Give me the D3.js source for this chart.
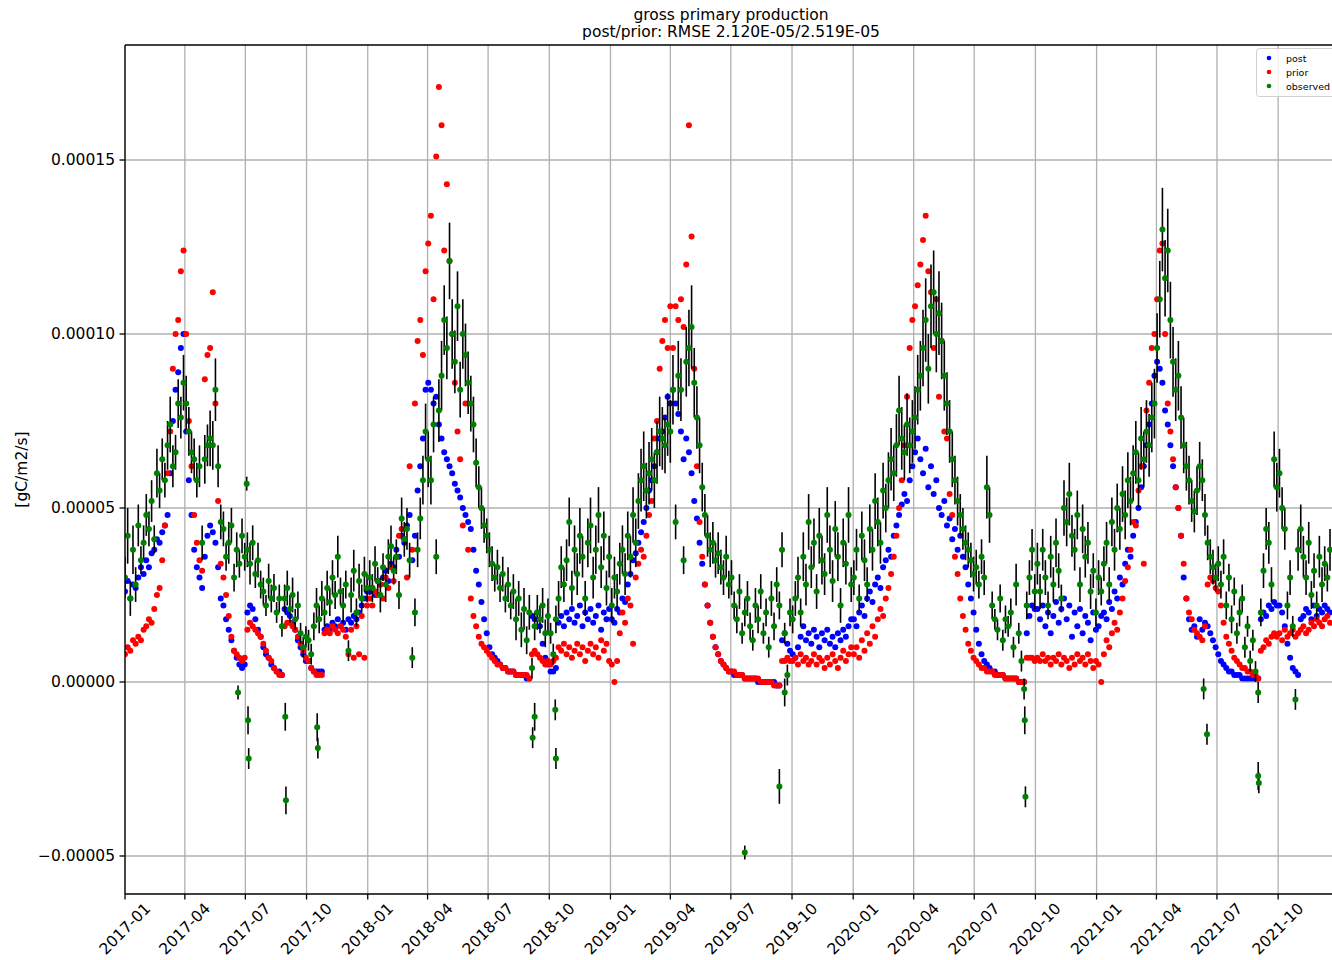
<!DOCTYPE html>
<html>
<head>
<meta charset="utf-8">
<script src="https://cdn.jsdelivr.net/npm/d3@7"></script>
<style>
  body { margin: 0; background: #fff; }
  svg text { font-family: "DejaVu Sans", sans-serif; fill: #000; }
</style>
</head>
<body>
<svg id="chart" width="1332" height="960"></svg>
<script>
// Gross primary production, values in units of 1e-6 gC/m2/s.
// Series are sampled every 4 days from 2017-01-01; each inner list is one
// calendar quarter and quarterStart holds the step index of its first sample.
const UNIT = 1e-6;
const STEP_DAYS = 4;
const quarterStart = [0,23,46,69,92,114,137,160,183,206,228,251,274,297,320,343,366,388,411,434];

const post = [
  [26,29,24,28,27,30,33,31,35,33,37,38,41,40,43,45,48,60,75,84,89,96,100],
  [72,58,48,38,33,30,27,36,42,45,43,40,33,24,22,18,15,12,9,7,5,4,5],
  [20,22,21,18,15,13,10,8,7,5,4,3,3,2,21,20,19,17,15,12,10,8,6],
  [6,4,3,3,3,3,15,16,15,17,16,18,16,17,15,18,17,19,18,20,22,24,26],
  [26,27,25,29,28,30,32,29,34,33,38,36,42,40,45,48,35,42,55,62,70,84],
  [86,84,80,82,74,70,66,64,62,60,57,55,53,50,48,46,44,38,32,28,23,18,14],
  [10,8,7,6,5,4,4,3,3,3,2,2,2,2,1,1,19,18,20,16,11,7,5],
  [3,3,4,17,19,16,20,18,21,17,19,22,16,20,18,21,17,19,22,15,20,18,21],
  [18,17,21,20,24,23,28,31,35,37,40,43,46,50,55,58,62,66,70,72,76,82,80],
  [84,80,77,72,64,70,66,60,52,47,40,34,28,22,17,13,10,8,6,5,4,3],
  [3,2,2,2,2,1,1,1,1,1,0,0,0,0,0,0,0,-1,-1,12,14,11,9],
  [8,7,10,13,16,12,14,11,15,13,10,14,12,15,11,13,10,14,12,15,13,16,18],
  [18,16,20,22,19,24,26,23,28,30,27,33,35,38,36,42,45,48,51,54,52,58,62],
  [66,70,64,60,67,56,62,54,58,50,48,52,45,47,41,44,38,42,36,33,28,24,20],
  [15,11,8,6,5,4,3,3,2,2,2,1,1,1,1,1,0,0,0,14,19,22,21],
  [21,18,22,16,20,14,19,23,17,21,24,18,22,13,20,16,21,14,19,17,12,20,15],
  [16,19,20,18,23,21,26,24,30,28,34,38,36,42,46,50,56,62,68,74,80,88],
  [92,90,86,78,74,68,62,56,50,42,30,24,18,15,16,13,18,15,17,16,14,12,10],
  [8,6,5,4,3,3,2,2,2,1,1,1,1,1,1,1,18,20,19,22,21,23,22],
  [22,20,16,11,7,4,3,2,18,19,21,20,18,22,19,21,20,22,21,20]
];

const prior = [
  [8,10,9,12,11,13,12,15,16,18,17,21,25,27,35,45,60,72,90,100,104,118,124],
  [100,75,62,48,40,35,32,87,94,96,112,80,52,34,30,25,19,13,9,8,7,6,7],
  [15,17,16,15,14,13,11,9,7,6,4,3,2,2,16,17,17,16,15,13,11,9,7],
  [6,4,3,2,2,2,14,15,14,16,15,14,16,15,13,8,15,7,16,8,19,7,22],
  [24,22,26,25,28,24,30,27,33,29,36,42,44,41,30,62,38,80,98,104,94,118],
  [126,134,110,151,171,160,124,143,121,100,86,72,64,45,80,38,24,19,16,13,11,10,9],
  [8,7,6,5,5,4,4,3,3,3,2,2,2,2,2,1,8,9,8,7,6,5,6],
  [5,6,7,10,9,11,8,10,7,9,11,8,10,6,9,11,8,10,7,12,9,11,6],
  [5,0,6,14,20,17,24,22,11,30,34,38,36,42,48,52,70,75,90,98,104,96,108],
  [96,108,104,110,102,120,160,128,90,62,46,36,28,22,17,13,10,8,6,5,4,3],
  [3,3,2,2,2,1,1,1,1,1,1,0,0,0,0,0,-1,-1,-1,6,6,7,6],
  [6,7,5,8,6,7,5,6,8,5,7,6,4,7,5,8,6,4,7,9,6,8,10],
  [8,10,7,12,9,14,11,16,13,18,21,19,24,27,31,36,42,50,58,68,82,96,104],
  [108,114,120,127,134,118,112,96,110,82,98,72,70,54,48,36,31,24,19,15,11,9,7],
  [6,5,4,4,3,3,3,2,2,2,2,1,1,1,1,1,0,0,0,7,7,7,6],
  [7,6,8,6,7,5,7,6,8,5,7,6,4,7,5,8,6,7,5,8,6,4,6],
  [5,0,8,12,10,14,17,15,20,24,29,33,38,46,45,55,62,34,78,86,96,100],
  [110,124,126,100,80,72,64,56,50,42,34,24,20,18,15,14,13,12,16,28,30,29,27],
  [26,22,17,13,11,9,7,6,5,4,4,3,3,2,2,1,9,10,12,11,13,14,13],
  [14,12,15,13,14,15,13,14,15,16,14,15,17,16,18,17,16,18,19,17]
];

const observed = [
  [30,42,24,38,28,45,35,40,48,44,52,41,60,55,64,58,68,74,62,66,80,76,86],
  [80,72,66,64,58,62,40,64,68,70,68,84,62,46,44,36,40,45,30,38,34,42,36],
  [38,34,40,31,35,28,26,22,29,24,27,20,24,16,24,27,21,25,18,22,14,10,13],
  [12,8,16,22,18,24,20,27,23,30,25,36,26,22,28,9,25,32,20,29,24,31,27],
  [30,27,34,29,25,33,28,36,39,32,36,25,47,41,44,35,7,20,38,47,58,72],
  [64,58,74,36,78,88,104,96,121,100,92,108,84,100,94,86,80,74,63,56,50,45,42],
  [38,34,30,33,27,31,24,28,22,26,18,24,15,21,12,20,4,16,20,18,22,14,19],
  [14,8,18,24,33,28,35,46,27,38,31,42,36,24,40,45,30,38,48,33,42,27,36],
  [22,30,26,34,38,31,42,36,48,40,52,58,62,55,60,64,58,66,72,70,68,74,72],
  [84,46,88,84,35,92,96,102,86,76,68,56,48,42,38,40,35,37,33,30,36,28],
  [30,22,18,26,14,20,24,16,12,22,18,26,14,20,10,24,16,28,22,38,14,2,20],
  [18,24,30,20,36,28,46,33,40,26,42,35,31,48,38,29,44,36,22,40,34,48,28],
  [30,38,24,42,35,28,44,38,52,46,40,55,50,58,64,60,68,78,70,66,74,68,72],
  [76,84,88,96,104,90,108,112,100,106,98,88,80,72,64,58,52,48,44,40,38,35,31],
  [33,28,36,30,56,48,22,18,15,24,12,18,16,20,10,28,14,6,-2,22,30,38,26],
  [34,26,38,30,22,36,28,40,32,24,50,46,54,42,38,48,28,44,36,40,26,32,20],
  [30,26,34,40,28,46,38,50,44,54,48,58,52,60,66,58,70,64,72,68,76,80],
  [96,110,130,116,124,104,92,84,88,76,68,62,58,52,49,55,62,58,48,40,36,33,30],
  [34,28,36,22,30,18,26,14,20,24,10,16,6,12,3,-3,20,32,44,40,28,64,56],
  [60,50,44,22,30,16,-5,38,44,36,30,40,25,32,22,36,28,34,30,38]
];

// Half-length of each observation's error bar, same units and layout.
const observedErr = [
  [6,8,5,7,5,6,4,5,6,5,6,4,7,5,6,5,7,8,6,5,7,6,8],
  [8,7,6,6,5,6,5,7,6,8,7,9,6,5,5,4,6,5,4,5,4,5,4],
  [5,6,5,4,5,4,4,3,5,4,4,3,4,3,4,5,4,5,3,4,3,3,3],
  [3,3,4,5,4,5,4,5,4,5,4,6,4,5,4,3,5,6,4,5,4,5,4],
  [5,4,5,4,5,4,5,5,6,4,5,4,6,5,6,5,3,4,5,6,7,8],
  [8,7,8,5,9,10,10,9,11,10,9,10,8,10,9,9,8,8,7,6,6,5,5],
  [5,5,4,5,4,5,4,5,4,5,6,5,5,6,4,5,3,4,5,4,5,4,5],
  [3,3,4,5,6,5,6,7,5,7,6,8,6,5,7,8,6,7,8,6,7,5,6],
  [5,6,5,6,7,6,7,6,8,7,8,9,10,8,9,9,8,9,10,9,8,9,9],
  [10,5,10,9,4,10,11,12,10,9,8,7,6,6,5,6,5,6,5,5,6,4],
  [5,4,4,5,3,4,5,4,3,5,4,5,3,4,3,5,4,5,4,5,3,3,4],
  [4,5,6,4,7,6,8,6,7,5,8,7,6,8,7,6,8,7,5,7,6,8,5],
  [5,6,4,7,6,5,7,6,8,7,6,8,7,8,9,8,9,10,9,8,9,8,9],
  [9,10,10,11,12,10,12,12,11,12,11,10,9,9,8,7,7,6,6,5,5,5,5],
  [5,4,5,5,9,8,4,3,3,4,3,4,3,4,3,6,3,3,3,4,5,6,5],
  [6,5,6,5,4,6,5,7,5,4,8,7,9,6,6,7,5,7,6,6,5,5,4],
  [5,4,5,6,5,7,6,7,6,8,7,8,7,8,9,8,9,8,9,9,10,10],
  [10,11,12,11,12,11,10,9,10,9,8,7,7,6,6,7,7,6,6,5,5,5,4],
  [5,4,5,4,4,4,4,3,4,4,3,3,3,3,3,3,4,5,6,6,5,8,7],
  [7,6,6,4,5,3,3,6,7,6,5,6,4,5,4,6,5,5,4,6]
];

// Isolated observations off the 4-day grid: date, value, error half-length.
const outliers = [
  ["2017-06-20", -3, 2], ["2017-07-03", 57, 2], ["2017-07-05", -11, 4],
  ["2017-07-06", -22, 3], ["2017-08-30", -10, 4], ["2017-08-31", -34, 4],
  ["2017-10-17", -13, 4], ["2017-10-18", -19, 3], ["2018-09-06", -16, 3],
  ["2018-09-09", -10, 4], ["2018-10-10", -8, 3], ["2018-10-11", -22, 3],
  ["2019-07-22", -49, 2], ["2019-09-12", -30, 5], ["2019-09-20", -3, 4],
  ["2020-09-15", -11, 4], ["2020-09-16", -33, 3], ["2021-06-11", -2, 3],
  ["2021-06-16", -15, 3], ["2021-09-01", -27, 4], ["2021-09-02", -29, 3]
];

const yTickValues = [-5e-5, 0, 5e-5, 1e-4, 1.5e-4];
const seriesNames = ["post", "prior", "observed"];
const seriesColors = ["#0000ff", "#ff0000", "#008000"];
const titleLines = ["gross primary production", "post/prior: RMSE 2.120E-05/2.519E-05"];
const yLabel = "[gC/m2/s]";

// ---- layout ----
const W = 1332, H = 960;
const M = { left: 125, right: 1332, top: 45, bottom: 894 };
const FONT = 15.5;

const t0 = Date.UTC(2017, 0, 1);
const DAY = 864e5;

function flatten(chunks, errChunks) {
  const out = [];
  chunks.forEach((c, q) => c.forEach((v, k) => {
    const d = { date: new Date(t0 + (quarterStart[q] + k) * STEP_DAYS * DAY), value: v * UNIT };
    if (errChunks) d.err = ((errChunks[q] && errChunks[q][k] != null) ? errChunks[q][k] : 4) * UNIT;
    out.push(d);
  }));
  return out;
}

const postPts = flatten(post);
const priorPts = flatten(prior);
const obsPts = flatten(observed, observedErr).concat(outliers.map(([d, v, e]) => ({
  date: new Date(d + "T00:00:00Z"), value: v * UNIT, err: e * UNIT
})));

const x = d3.scaleUtc()
  .domain([new Date(t0), new Date(t0 + 1815 * DAY)])
  .range([M.left, M.right]);
const y = d3.scaleLinear()
  .domain([-60.92e-6, 183.05e-6])
  .range([M.bottom, M.top]);

const svg = d3.select("#chart");
svg.append("rect").attr("width", W).attr("height", H).attr("fill", "#fff");

svg.append("defs").append("clipPath").attr("id", "plot-clip")
  .append("rect")
  .attr("x", M.left).attr("y", M.top)
  .attr("width", M.right - M.left).attr("height", M.bottom - M.top);

const xTicks = d3.utcMonths(new Date(t0), new Date(Date.UTC(2021, 11, 2)), 3);

// grid
const grid = svg.append("g").attr("stroke", "#b0b0b0").attr("stroke-width", 1.3);
grid.selectAll("line.gx").data(xTicks).join("line")
  .attr("x1", d => x(d)).attr("x2", d => x(d))
  .attr("y1", M.top).attr("y2", M.bottom);
grid.selectAll("line.gy").data(yTickValues).join("line")
  .attr("x1", M.left).attr("x2", M.right)
  .attr("y1", d => y(d)).attr("y2", d => y(d));

const plot = svg.append("g").attr("clip-path", "url(#plot-clip)");
const R = 3;

plot.append("g").attr("fill", seriesColors[0])
  .selectAll("circle").data(postPts).join("circle")
  .attr("cx", d => x(d.date)).attr("cy", d => y(d.value)).attr("r", R);

plot.append("g").attr("fill", seriesColors[1])
  .selectAll("circle").data(priorPts).join("circle")
  .attr("cx", d => x(d.date)).attr("cy", d => y(d.value)).attr("r", R);

// observations: black error bars, green markers on top
plot.append("g").attr("stroke", "#000").attr("stroke-width", 1.6)
  .selectAll("line").data(obsPts).join("line")
  .attr("x1", d => x(d.date)).attr("x2", d => x(d.date))
  .attr("y1", d => y(d.value - d.err)).attr("y2", d => y(d.value + d.err));

plot.append("g").attr("fill", seriesColors[2])
  .selectAll("circle").data(obsPts).join("circle")
  .attr("cx", d => x(d.date)).attr("cy", d => y(d.value)).attr("r", R);

// spines
const spine = svg.append("g").attr("stroke", "#000").attr("stroke-width", 1.3).attr("fill", "none");
spine.append("line").attr("x1", M.left).attr("x2", M.left).attr("y1", M.top).attr("y2", M.bottom);
spine.append("line").attr("x1", M.left).attr("x2", M.right + 2).attr("y1", M.top).attr("y2", M.top);
spine.append("line").attr("x1", M.left).attr("x2", M.right + 2).attr("y1", M.bottom).attr("y2", M.bottom);

// x axis ticks and rotated labels
const xAxis = svg.append("g");
xAxis.selectAll("line").data(xTicks).join("line")
  .attr("x1", d => x(d)).attr("x2", d => x(d))
  .attr("y1", M.bottom).attr("y2", M.bottom + 5.5)
  .attr("stroke", "#000").attr("stroke-width", 1.3);
const fmt = d3.utcFormat("%Y-%m");
xAxis.selectAll("text").data(xTicks).join("text")
  .attr("transform", d => `translate(${x(d)},${M.bottom + 35}) rotate(-45)`)
  .attr("text-anchor", "middle")
  .attr("dominant-baseline", "central")
  .attr("font-size", FONT)
  .text(d => fmt(d));

// y axis
const yAxis = svg.append("g");
yAxis.selectAll("line").data(yTickValues).join("line")
  .attr("x1", M.left - 5.5).attr("x2", M.left)
  .attr("y1", d => y(d)).attr("y2", d => y(d))
  .attr("stroke", "#000").attr("stroke-width", 1.3);
yAxis.selectAll("text").data(yTickValues).join("text")
  .attr("x", M.left - 10).attr("y", d => y(d))
  .attr("text-anchor", "end").attr("dominant-baseline", "central")
  .attr("font-size", FONT)
  .text(d => (d < 0 ? "\u2212" : "") + Math.abs(d).toFixed(5));

svg.append("text")
  .attr("transform", `translate(22,${(M.top + M.bottom) / 2}) rotate(-90)`)
  .attr("text-anchor", "middle").attr("dominant-baseline", "central")
  .attr("font-size", FONT)
  .text(yLabel);

// title
svg.selectAll("text.title").data(titleLines).join("text")
  .attr("class", "title")
  .attr("x", 731).attr("y", (d, i) => 20 + i * 17)
  .attr("text-anchor", "middle")
  .attr("font-size", FONT)
  .text(d => d);

// legend
const lg = svg.append("g");
lg.append("rect")
  .attr("x", 1256.5).attr("y", 48.5).attr("width", 90).attr("height", 48)
  .attr("rx", 3).attr("fill", "#fff").attr("fill-opacity", 0.8)
  .attr("stroke", "#d0d0d0").attr("stroke-width", 1);
const items = lg.selectAll("g.item").data(seriesNames).join("g")
  .attr("transform", (d, i) => `translate(0,${58 + i * 14})`);
items.append("circle").attr("cx", 1269).attr("cy", 0).attr("r", 2.3)
  .attr("fill", (d, i) => seriesColors[i]);
items.append("text").attr("x", 1286).attr("y", 0)
  .attr("dominant-baseline", "central").attr("font-size", 9.5)
  .text(d => d);
</script>
</body>
</html>
